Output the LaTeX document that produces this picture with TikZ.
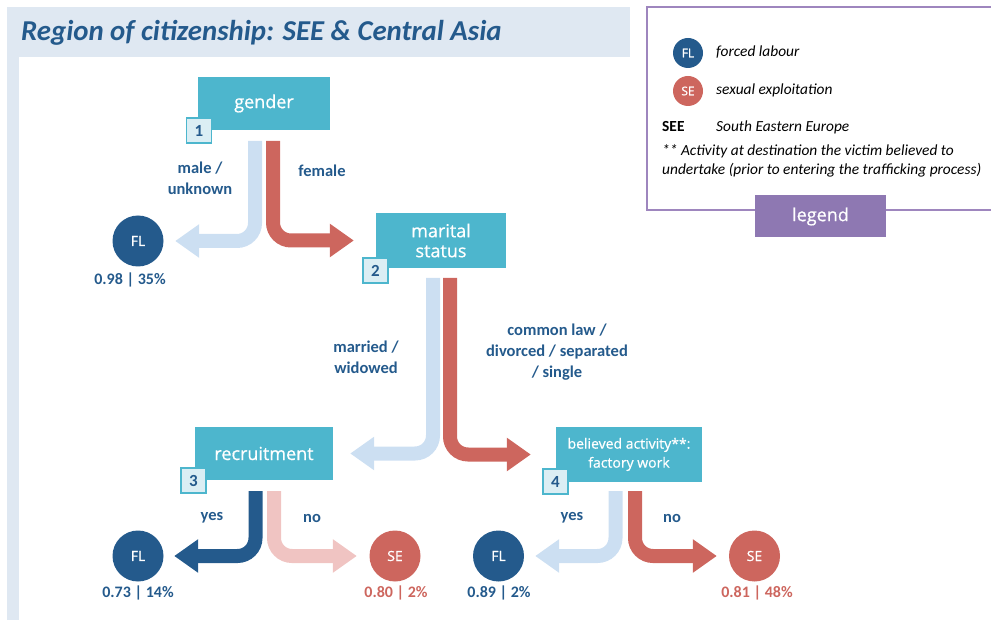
\documentclass[tikz,border=0pt]{standalone}
\usepackage{fontspec}
\setmainfont{Carlito}
\newfontfamily\boxfont[FakeBold=0.7]{Open Sans}
\usetikzlibrary{arrows.meta,calc}
\definecolor{titlebg}{HTML}{DFE8F2}
\definecolor{dblue}{HTML}{245A8C}
\definecolor{teal}{HTML}{4DB6CD}
\definecolor{lblue}{HTML}{CCDFF2}
\definecolor{sered}{HTML}{CD665E}
\definecolor{pink}{HTML}{F0C4C2}
\definecolor{lpurple}{HTML}{9E86BE}
\definecolor{tagpurple}{HTML}{8E78B2}
\definecolor{numfill}{HTML}{DBEEF4}
\tikzset{
  qbox/.style={fill=teal, text=white, font=\boxfont\fontsize{18}{22}\selectfont, align=center, inner sep=0pt},
  numbox/.style={fill=numfill, draw=teal, line width=1.2pt, text=dblue, font=\bfseries\fontsize{17}{20}\selectfont, minimum width=25pt, minimum height=25pt, inner sep=0pt},
  flcirc/.style={circle, fill=dblue, text=white, minimum size=51pt, inner sep=0pt, font=\boxfont\fontsize{14}{16}\selectfont},
  secirc/.style={circle, fill=sered, text=white, minimum size=51pt, inner sep=0pt, font=\boxfont\fontsize{14}{16}\selectfont},
  lab/.style={text=dblue, font=\bfseries\fontsize{16.5}{21}\selectfont, align=center},
  blueval/.style={text=dblue, font=\bfseries\fontsize{16}{19}\selectfont},
  redval/.style={text=sered, font=\bfseries\fontsize{16}{19}\selectfont},
  flow/.style={line width=14pt, rounded corners=18pt, -{Triangle[width=32pt,length=24pt]}},
  legtxt/.style={font=\itshape\fontsize{15.4}{19}\selectfont, anchor=west, inner sep=0pt},
}
\begin{document}
\begin{tikzpicture}[x=1pt,y=-1pt]
\useasboundingbox (0,0) rectangle (991,620);
% title band and left strip
\fill[titlebg] (7,7) rectangle (630,57);
\fill[titlebg] (7,57) rectangle (19,620);
\node[anchor=west, text=dblue, font=\bfseries\itshape\fontsize{28.8}{34}\selectfont, inner sep=0pt] (title) at (21,33) {Region of citizenship: SEE \& Central Asia};
% legend
\draw[lpurple, line width=1.5pt] (995,7) -- (647,7) -- (647,210) -- (995,210);
\node[fill=tagpurple, text=white, font=\boxfont\fontsize{18}{22}\selectfont, minimum width=131pt, minimum height=42pt, inner sep=0pt] (legtag) at (820.5,216.5) {legend};
\node[flcirc, minimum size=30pt, font=\boxfont\fontsize{12}{14}\selectfont] (lfl) at (688,53) {FL};
\node[secirc, minimum size=30pt, font=\boxfont\fontsize{12}{14}\selectfont] (lse) at (688,91) {SE};
\node[legtxt] (lflt) at (716,52) {forced labour};
\node[legtxt] (lset) at (716,90) {sexual exploitation};
\node[anchor=west, inner sep=0pt, font=\bfseries\fontsize{15.4}{19}\selectfont] (see) at (662,127) {SEE};
\node[legtxt] (seet) at (716,127) {South Eastern Europe};
\node[legtxt] (ast1) at (662,151) {** Activity at destination the victim believed to};
\node[legtxt] (ast2) at (662,170) {undertake (prior to entering the trafficking process)};
% question boxes
\node[qbox, minimum width=132pt, minimum height=53pt] (gender) at (264,103.5) {gender};
\node[numbox] (n1) at (199,130.5) {1};
\node[qbox, minimum width=130pt, minimum height=55pt] (marital) at (441,240.5) {marital\\[-2pt]status};
\node[numbox] (n2) at (375.5,270.5) {2};
\node[qbox, minimum width=138pt, minimum height=53pt] (recruit) at (264,453.5) {recruitment};
\node[numbox] (n3) at (193.5,480.5) {3};
\node[qbox, minimum width=146pt, minimum height=55pt, font=\boxfont\fontsize{14}{19}\selectfont] (belief) at (629,454.5) {believed activity**:\\factory work};
\node[numbox] (n4) at (555.5,481.5) {4};
% outcome circles
\node[flcirc] (fl1) at (138,241) {FL};
\node[flcirc] (fl2) at (138,556) {FL};
\node[secirc] (se2) at (395,556) {SE};
\node[flcirc] (fl3) at (498.5,556) {FL};
\node[secirc] (se3) at (754.5,556) {SE};
% values
\node[blueval] (v1) at (130,280) {0.98 | 35\%};
\node[blueval] (v2) at (138,593) {0.73 | 14\%};
\node[redval] (v3) at (396,593) {0.80 | 2\%};
\node[blueval] (v4) at (499,593) {0.89 | 2\%};
\node[redval] (v5) at (757,593) {0.81 | 48\%};
% start points of flows
\coordinate (g1) at (255,141);
\coordinate (g2) at (273,141);
\coordinate (m1) at (433,278);
\coordinate (m2) at (450,278);
\coordinate (r1) at (255.5,491);
\coordinate (r2) at (274,491);
\coordinate (b1) at (615.5,491);
\coordinate (b2) at (635,491);
% flows
\draw[flow, lblue, shorten >=11.5pt] (g1) |- (fl1);
\draw[flow, sered, shorten >=22pt] (g2) |- (marital.west);
\draw[flow, lblue, shorten >=17pt] (m1) |- (recruit.east);
\draw[flow, sered, shorten >=25pt] (m2) |- (belief.west);
\draw[flow, dblue, shorten >=10.5pt] (r1) |- (fl2);
\draw[flow, pink, shorten >=12.5pt] (r2) |- (se2);
\draw[flow, lblue, shorten >=11pt] (b1) |- (fl3);
\draw[flow, sered, shorten >=12pt] (b2) |- (se3);
% branch labels
\node[lab] (l1) at (200,178) {male /\\unknown};
\node[lab] (l2) at (322,171) {female};
\node[lab] (l3) at (366,357) {married /\\widowed};
\node[lab] (l4) at (557,352) {common law /\\divorced / separated\\/ single};
\node[lab] (l5) at (212,518) {yes};
\node[lab] (l6) at (312,518) {no};
\node[lab] (l7) at (572,518) {yes};
\node[lab] (l8) at (672,518) {no};
\end{tikzpicture}
\end{document}
